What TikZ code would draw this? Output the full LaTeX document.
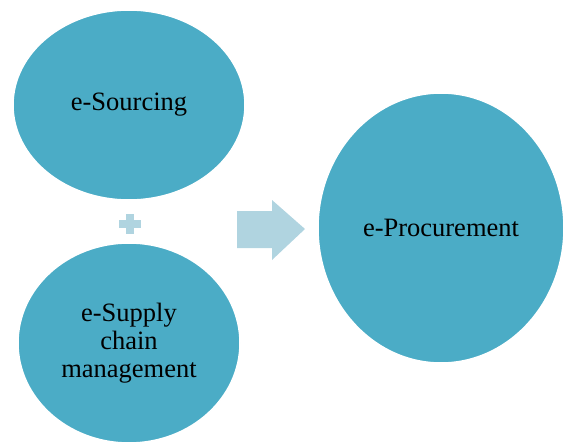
\documentclass[tikz,border=0pt]{standalone}
\usepackage{fontspec}
\setmainfont{Liberation Serif}
\usepackage{tikz}
\usetikzlibrary{shapes.geometric}
\usepackage{xcolor}
\definecolor{ColA}{RGB}{75,172,198}
\definecolor{ColB}{RGB}{176,212,224}
\tikzstyle{NodeBubble}=[ellipse,fill=ColA,draw=white,line width=1.5pt,inner sep=0pt,
align=center,font=\fontsize{26.5}{28}\selectfont]
\tikzstyle{SignFill}=[fill=ColB,draw=none]
\begin{document}
\begin{tikzpicture}[x=1pt,y=-1pt]
        \useasboundingbox(0,0)rectangle(566,442);
        \node[NodeBubble,minimum width=232,minimum height=190](src)at(129,105){e-Sourcing};
        \node[NodeBubble,minimum width=222,minimum height=200](scm)at(129,343){e-Supply\\chain\\management};
        \node[NodeBubble,minimum width=246,minimum height=270](proc)at(441,228){e-Procurement};
        \coordinate(plus)at(130,224);
        \fill[SignFill]([xshift=-11pt,yshift=-4pt]plus)rectangle([xshift=11pt,yshift=4pt]plus);
        \fill[SignFill]([xshift=-4pt,yshift=-10pt]plus)rectangle([xshift=4pt,yshift=10pt]plus);
        \fill[SignFill](237,211)--(272,211)--(272,200)--(305,229)--(272,260)--(272,248)--(237,248)--cycle;
    \end{tikzpicture}
\end{document}
